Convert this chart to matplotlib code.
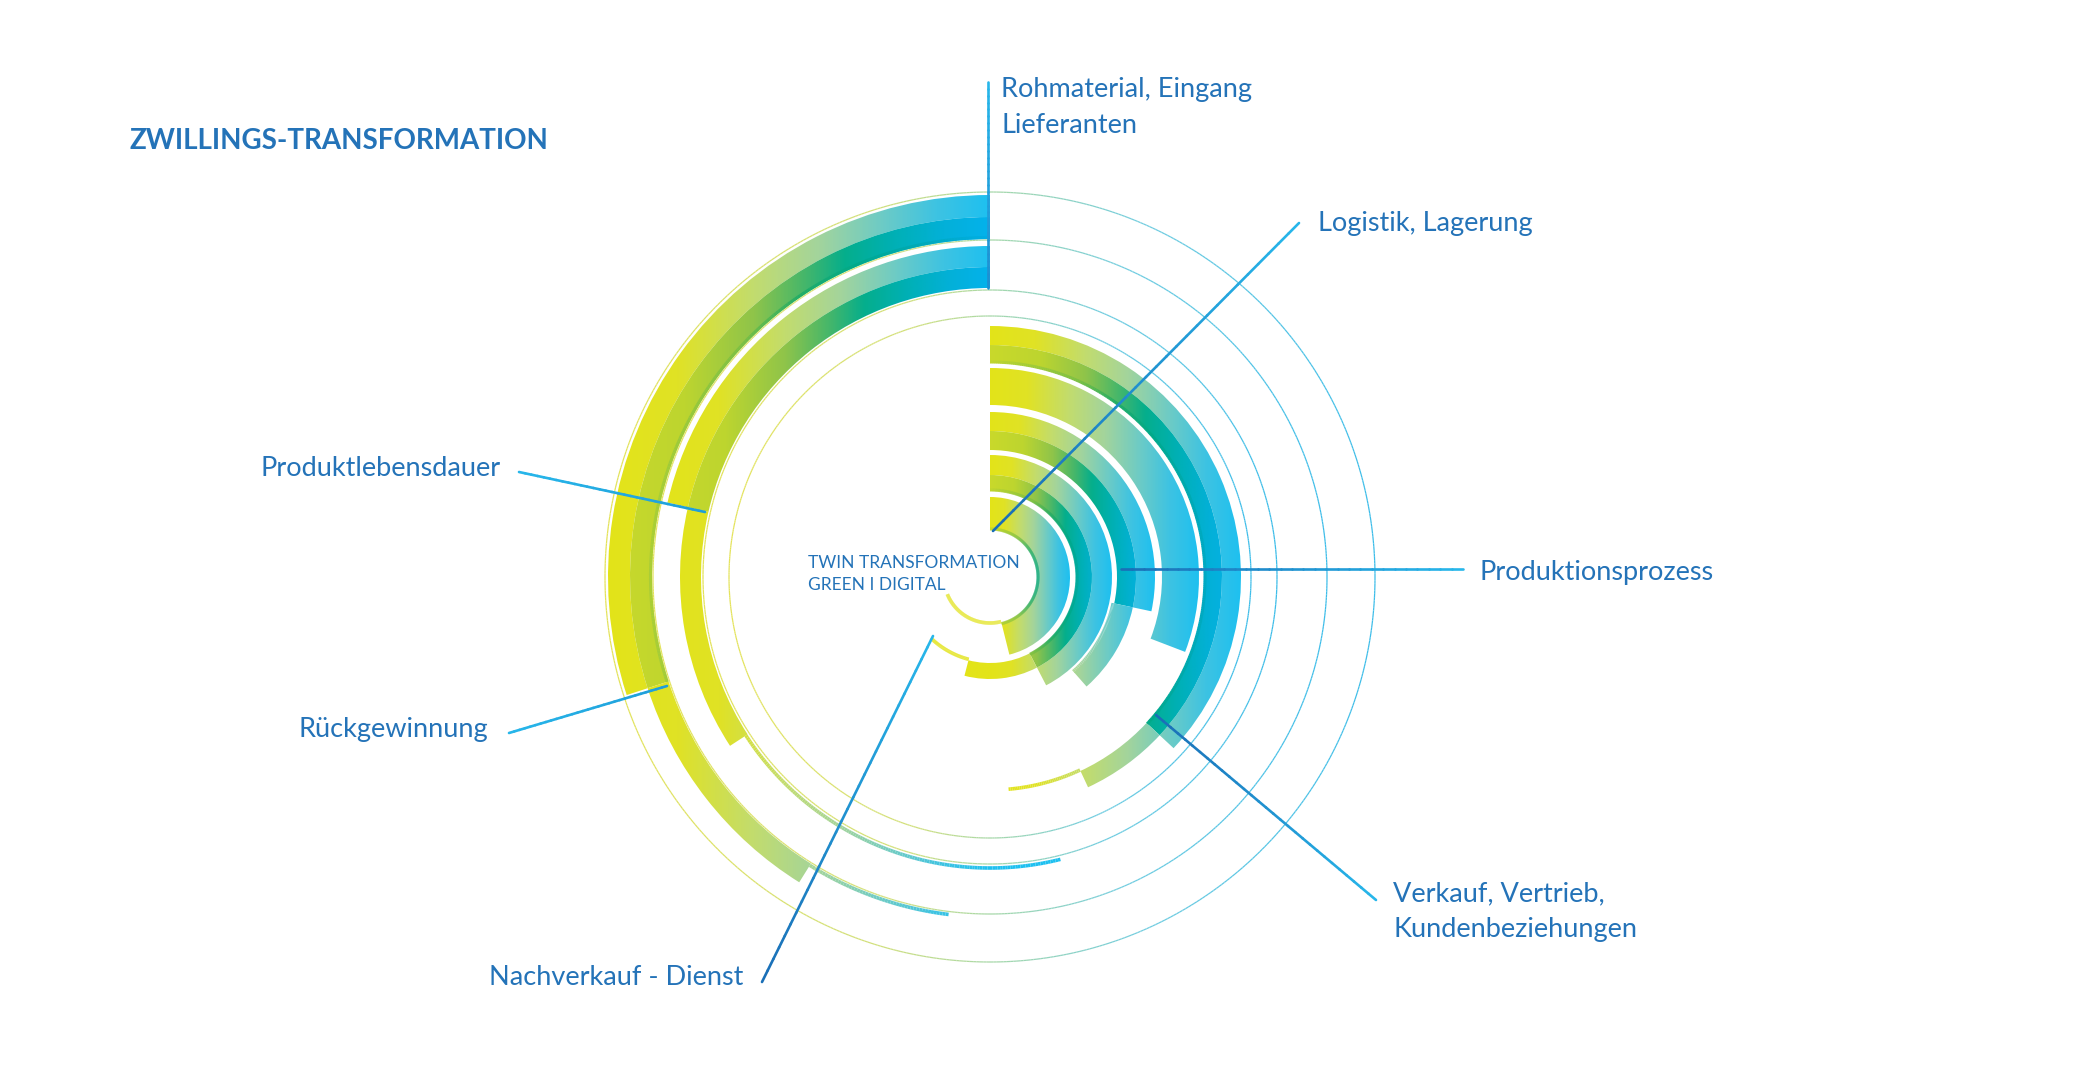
import numpy as np
import matplotlib
matplotlib.use("Agg")
import matplotlib.pyplot as plt
from matplotlib.patches import Wedge
from matplotlib.collections import LineCollection
from matplotlib.colors import LinearSegmentedColormap

plt.rcParams['font.family'] = ['Lato', 'DejaVu Sans']

W, H = 2085, 1077
CX, CY = 990, 577          # ring centre in image pixels
BLUE = '#2473b8'

# ---------------- data ----------------
title = "ZWILLINGS-TRANSFORMATION"
centre_lines = ["TWIN TRANSFORMATION", "GREEN I DIGITAL"]

# left arcs, counter-clockwise from 12 o'clock (degrees)
left_r_in = [338, 289]
left_r_mid = [360, 310]
left_r_out = [382, 331]
left_full_end = [198, 167]
left_inner_end = [238, 213]
left_tail_end = [263, 284]

# right arcs, clockwise from 12 o'clock (degrees)
right_r_in = [214, 172, 127, 86, 47]
right_r_mid = [232, 172, 146, 102, 47]     # mid == in -> one stripe only
right_r_out = [251, 209, 165, 122, 80]
right_full_end = [-43, -21, -12, -62.6, -76]
right_inner_end = [-65, -21, -48.6, -104.5, -76]
right_tail_end = [-85, -21, -12, -134, -158]
right_edge = [True, False, False, True, True]

ring_r = [385, 337, 287, 261]

labels = ["Rohmaterial, Eingang\nLieferanten", "Logistik, Lagerung",
          "Produktionsprozess", "Verkauf, Vertrieb,\nKundenbeziehungen",
          "Nachverkauf - Dienst", "Rückgewinnung", "Produktlebensdauer"]

# ---------------- layout ----------------
# (x, first baseline, ha) in image px
label_pos = [(1001, 97, 'left'), (1318, 231, 'left'), (1479, 580, 'left'),
             (1393, 901, 'left'), (743, 985, 'right'), (488, 737, 'right'),
             (501, 476, 'right')]
# leader lines: label end -> chart end, with end colours
leaders = [((988, 82), (988, 288), '#27b6ea', '#1f8ed0'),
           ((1299, 223), (993, 531), '#27b6ea', '#1a6fb7'),
           ((1463, 569), (1121, 569), '#27b6ea', '#1a6fb7'),
           ((1376, 900), (1156, 715), '#27b6ea', '#1a6fb7'),
           ((762, 982), (933, 636), '#1a6fb7', '#27b6ea'),
           ((509, 733), (667, 686), '#27b6ea', '#1f9ed9'),
           ((519, 472), (705, 512), '#27b6ea', '#1f9ed9')]

light = LinearSegmentedColormap.from_list('light', [
    (0, '#e3e419'), (0.18, '#e0e225'), (0.38, '#c2dc6e'), (0.55, '#a3d49c'),
    (0.72, '#6ccbc6'), (0.86, '#3ec3e2'), (1.0, '#1ec0f0')])
dark = LinearSegmentedColormap.from_list('dark', [
    (0, '#c9d92b'), (0.2, '#bdd52f'), (0.38, '#8fc44a'), (0.52, '#42b66c'),
    (0.62, '#05ae8c'), (0.75, '#00b0b5'), (0.88, '#03b0d8'), (1.0, '#04b2ec')])
edge = LinearSegmentedColormap.from_list('edge', [
    (0, '#bfd530'), (0.35, '#7cc044'), (0.5, '#22ad66'), (0.65, '#00a98a'),
    (0.85, '#00a9c0'), (1.0, '#00aee6')])
ringmap = LinearSegmentedColormap.from_list('ring', [
    (0, '#e4e35a'), (0.35, '#d2e07c'), (0.5, '#a8d8a8'), (0.7, '#72cde0'),
    (1.0, '#3dbde9')])


def to_xy(x, y):
    return x - CX, CY - y


fig = plt.figure(figsize=(W / 100, H / 100), dpi=100)
ax = fig.add_axes([0, 0, 1, 1])


def s_right(r):
    return lambda x: np.clip(x / r, 0, 1)


def s_left(r):
    return lambda x: np.clip(1 + x / r, 0, 1)


def band(r_in, r_out, a1, a2, sf, cmap, z=2):
    if r_out - r_in <= 0 or a1 == a2:
        return
    lo, hi = min(a1, a2), max(a1, a2)
    w = Wedge((0, 0), r_out, lo, hi, width=r_out - r_in, fc='none', ec='none')
    ax.add_patch(w)
    xs = np.linspace(-r_out, r_out, 800)
    im = ax.imshow(np.tile(sf(xs), (2, 1)), cmap=cmap, vmin=0, vmax=1,
                   extent=(-r_out, r_out, -r_out, r_out), aspect='auto',
                   interpolation='bilinear', zorder=z)
    im.set_clip_path(w)


def arc_line(r, a1, a2, sf, cmap, lw, z=3):
    if a1 == a2:
        return
    n = max(int(abs(a2 - a1) * 2), 2)
    t = np.radians(np.linspace(a1, a2, n + 1))
    x, y = r * np.cos(t), r * np.sin(t)
    pts = np.column_stack([x, y])
    segs = np.stack([pts[:-1], pts[1:]], axis=1)
    xm = (x[:-1] + x[1:]) / 2
    ax.add_collection(LineCollection(segs, colors=cmap(sf(xm)), linewidths=lw,
                                     capstyle='butt', zorder=z))


# thin rings
for r in ring_r:
    arc_line(r, 0, 360, lambda x, r=r: (x + r) / (2 * r), ringmap, 0.9, z=1)

# left arcs
for i in range(len(left_r_in)):
    ri, rm, ro = left_r_in[i], left_r_mid[i], left_r_out[i]
    sf = s_left(ro)
    band(rm, ro, 90, left_full_end[i], sf, light)
    band(ri, rm, 90, left_full_end[i], sf, dark)
    band(ri, rm, left_full_end[i], left_inner_end[i], sf, light)
    arc_line(ri + 2, left_inner_end[i], left_tail_end[i], sf, light, 2.6)
    if i == 0:
        arc_line(ri + 1.5, 90, left_full_end[i], sf, edge, 2.2)

# right arcs
for i in range(len(right_r_in)):
    ri, rm, ro = right_r_in[i], right_r_mid[i], right_r_out[i]
    sf = s_right(ro)
    band(rm, ro, 90, right_full_end[i], sf, light)
    band(ri, rm, 90, right_full_end[i], sf, dark)
    band(ri, rm, right_full_end[i], right_inner_end[i], sf, light)
    arc_line(ri - 1, right_inner_end[i], right_tail_end[i], sf, light, 2.6)
    if right_edge[i]:
        arc_line(ri + 1, 90, right_full_end[i], sf, edge, 2.2)

# leader lines (short overlapping pieces, round caps to avoid seams)
for p0, p1, c0, c1 in leaders:
    (x0, y0), (x1, y1) = to_xy(*p0), to_xy(*p1)
    n = 30
    xs, ys = np.linspace(x0, x1, n + 1), np.linspace(y0, y1, n + 1)
    pts = np.column_stack([xs, ys])
    segs = np.stack([pts[:-1], pts[1:]], axis=1)
    cm = LinearSegmentedColormap.from_list('l', [c0, c1])
    ax.add_collection(LineCollection(segs, colors=cm(np.linspace(0, 1, n)),
                                     linewidths=1.9, capstyle='round',
                                     antialiased=True, zorder=5))

# labels
for text, (x, y, ha) in zip(labels, label_pos):
    for k, line in enumerate(text.split('\n')):
        ax.text(*to_xy(x, y + 36 * k), line, ha=ha, va='baseline',
                fontsize=19.5, color=BLUE, zorder=6)

ax.text(*to_xy(129, 149), title, ha='left', va='baseline', fontsize=20,
        fontweight='bold', color=BLUE, zorder=6)
for k, line in enumerate(centre_lines):
    ax.text(*to_xy(808, 568 + 22 * k), line, ha='left', va='baseline',
            fontsize=12.5, color=BLUE, zorder=6)

ax.set_xlim(-CX, W - CX)
ax.set_ylim(CY - H, CY)
ax.axis('off')
fig.savefig('out.png', dpi=100, facecolor='white')
